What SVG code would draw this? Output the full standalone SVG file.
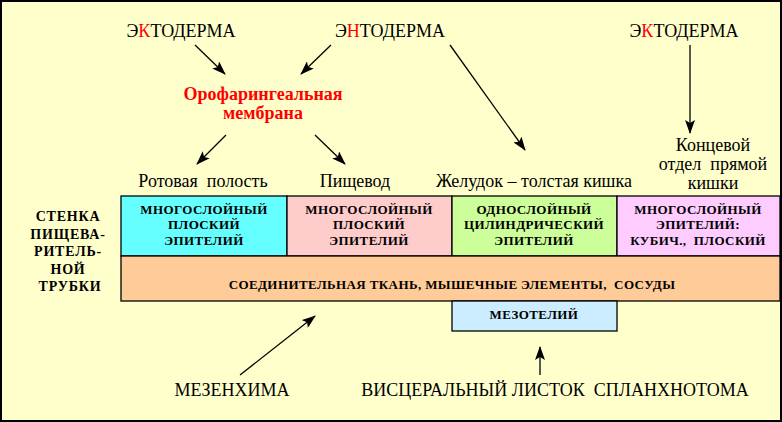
<svg xmlns="http://www.w3.org/2000/svg" width="782" height="422" viewBox="0 0 782 422" xml:space="preserve">
<defs>
<marker id="ah" markerWidth="14" markerHeight="10" refX="13" refY="5" orient="auto" markerUnits="userSpaceOnUse">
<path d="M0,0 L14,5 L0,10 L3,5 Z" fill="#000"/>
</marker>
<style>
text{white-space:pre}
.t{font-family:"Liberation Serif","Times New Roman",serif;font-size:18px;fill:#000;text-anchor:middle}
.b{font-family:"Liberation Serif","Times New Roman",serif;font-size:13px;font-weight:bold;fill:#000;text-anchor:middle;letter-spacing:0.4px}
.w{font-family:"Liberation Serif","Times New Roman",serif;font-size:14px;font-weight:bold;fill:#000;text-anchor:middle;letter-spacing:0.8px}
.r{fill:#f00}
.red{font-family:"Liberation Serif","Times New Roman",serif;font-size:18px;font-weight:bold;fill:#f00;text-anchor:middle}
.c{stroke:#000;stroke-width:1.3;fill:none;marker-end:url(#ah)}
.box{stroke:#000;stroke-width:1.3}
</style>
</defs>
<rect x="1" y="1" width="780" height="420" fill="#FFFFCC" stroke="#000" stroke-width="2"/>

<g id="ecto1"><text class="t" x="181" y="37">Э<tspan class="r">К</tspan>ТОДЕРМА</text></g>
<g id="endo"><text class="t" x="390" y="37">Э<tspan class="r">Н</tspan>ТОДЕРМА</text></g>
<g id="ecto2"><text class="t" x="684" y="37">Э<tspan class="r">К</tspan>ТОДЕРМА</text></g>
<g id="membrane"><text class="red" x="263" y="100">Орофарингеальная</text><text class="red" x="263" y="119">мембрана</text></g>
<g id="mouth"><text class="t" x="203" y="187">Ротовая  полость</text></g>
<g id="esoph"><text class="t" x="355" y="187">Пищевод</text></g>
<g id="stomach"><text class="t" x="534" y="187">Желудок – толстая кишка</text></g>
<g id="rectum"><text class="t" x="713" y="151">Концевой</text><text class="t" x="713" y="170">отдел  прямой</text><text class="t" x="713" y="189">кишки</text></g>

<g id="wall">
<text class="w" x="68" y="221">СТЕНКА</text>
<text class="w" x="68" y="239">ПИЩЕВА-</text>
<text class="w" x="68" y="256">РИТЕЛЬ-</text>
<text class="w" x="68" y="274">НОЙ</text>
<text class="w" x="70" y="291">ТРУБКИ</text>
</g>

<g id="cell1"><rect class="box" x="121" y="196" width="166" height="60" fill="#66FFFF"/>
<text class="b" x="204" y="214">МНОГОСЛОЙНЫЙ</text><text class="b" x="204" y="229">ПЛОСКИЙ</text><text class="b" x="204" y="245">ЭПИТЕЛИЙ</text></g>
<g id="cell2"><rect class="box" x="287" y="196" width="165" height="60" fill="#FFCCCC"/>
<text class="b" x="369" y="214">МНОГОСЛОЙНЫЙ</text><text class="b" x="369" y="229">ПЛОСКИЙ</text><text class="b" x="369" y="245">ЭПИТЕЛИЙ</text></g>
<g id="cell3"><rect class="box" x="452" y="196" width="165" height="60" fill="#CCFF99"/>
<text class="b" x="534" y="214">ОДНОСЛОЙНЫЙ</text><text class="b" x="534" y="229">ЦИЛИНДРИЧЕСКИЙ</text><text class="b" x="534" y="245">ЭПИТЕЛИЙ</text></g>
<g id="cell4"><rect class="box" x="617" y="196" width="163" height="60" fill="#FFCCFF"/>
<text class="b" x="698" y="214">МНОГОСЛОЙНЫЙ</text><text class="b" x="698" y="229">ЭПИТЕЛИЙ:</text><text class="b" x="698" y="245">КУБИЧ.,  ПЛОСКИЙ</text></g>
<g id="connective"><rect class="box" x="121" y="256" width="659" height="45" fill="#FFCC99"/>
<text class="b" x="452" y="289">СОЕДИНИТЕЛЬНАЯ ТКАНЬ, МЫШЕЧНЫЕ ЭЛЕМЕНТЫ,  СОСУДЫ</text></g>
<g id="meso"><rect class="box" x="452" y="301" width="165" height="30" fill="#CCECFF"/>
<text class="b" x="534" y="319">МЕЗОТЕЛИЙ</text></g>

<g id="mesench"><text class="t" x="232" y="396">МЕЗЕНХИМА</text></g>
<g id="splanch"><text class="t" x="555" y="396">ВИСЦЕРАЛЬНЫЙ ЛИСТОК  СПЛАНХНОТОМА</text></g>

<g id="connectors">
<line class="c" x1="195" y1="45" x2="225" y2="74"/>
<line class="c" x1="331" y1="45" x2="301" y2="74"/>
<line class="c" x1="226" y1="135" x2="197" y2="164"/>
<line class="c" x1="315" y1="135" x2="345" y2="164"/>
<line class="c" x1="450" y1="45" x2="525" y2="150"/>
<line class="c" x1="690" y1="45" x2="690" y2="133"/>
<line class="c" x1="240" y1="375" x2="315" y2="316"/>
<line class="c" x1="540" y1="375" x2="540" y2="347"/>
</g>
</svg>
